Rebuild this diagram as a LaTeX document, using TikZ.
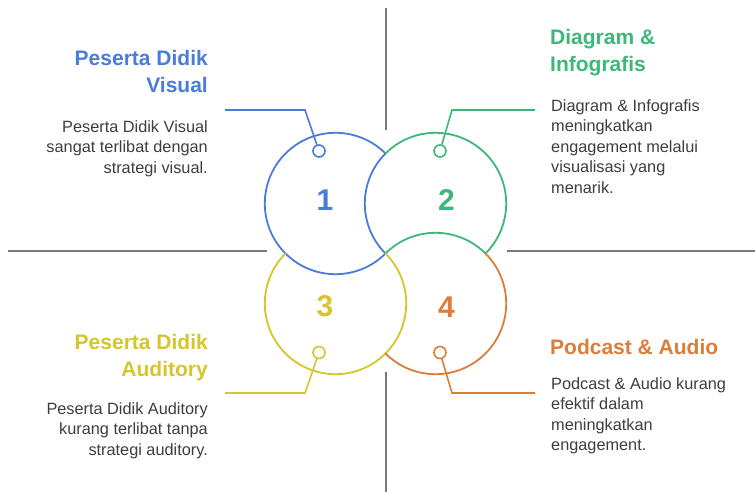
\documentclass[tikz,border=0pt]{standalone}
\usepackage{fontspec}
\setmainfont{Liberation Sans}
\usepackage{tikz}
\definecolor{visualblue}{HTML}{4A7CDC}
\definecolor{infogreen}{HTML}{3CB878}
\definecolor{audyellow}{HTML}{D6C62C}
\definecolor{podorange}{HTML}{DC7E3A}
\definecolor{bodytext}{HTML}{3E3E3E}
\definecolor{crossgray}{HTML}{7A7A7A}

\begin{document}
\begin{tikzpicture}[x=1pt,y=1pt]
	\tikzstyle{ring}=[line width=1.8pt, line cap=round]
	\tikzstyle{pin}=[circle, draw, fill=white, line width=1.6pt, minimum size=12pt, inner sep=0pt]
	\tikzstyle{link}=[line width=1.6pt]
	\tikzstyle{head}=[font=\fontsize{21}{27}\selectfont\bfseries, inner sep=0pt]
	\tikzstyle{info}=[font=\fontsize{16.3}{20.5}\selectfont, text=bodytext, inner sep=0pt]
	\tikzstyle{num}=[font=\fontsize{30}{30}\selectfont\bfseries]
	\tikzstyle{cross}=[draw=crossgray, line width=2pt]

	\useasboundingbox (0,0) rectangle (755,-492);
	\fill[white] (0,0) rectangle (755,-492);

	\coordinate (up a) at (386,-8);
	\coordinate (up b) at (386,-130);
	\coordinate (down a) at (386,-372);
	\coordinate (down b) at (386,-492);
	\coordinate (left a) at (8,-251);
	\coordinate (left b) at (267,-251);
	\coordinate (right a) at (507,-251);
	\coordinate (right b) at (755,-251);
	\draw [cross] (up a) -- (up b);
	\draw [cross] (down a) -- (down b);
	\draw [cross] (left a) -- (left b);
	\draw [cross] (right a) -- (right b);

	\coordinate (c1) at (335.5,-203.5);
	\coordinate (c2) at (435.5,-203.5);
	\coordinate (c3) at (335.5,-303.5);
	\coordinate (c4) at (435.5,-303.5);
	\draw [ring, visualblue] (c1) ++(45:70.7) arc [start angle=45, end angle=315, radius=70.7];
	\draw [ring, visualblue] (c2) ++(135:70.7) arc [start angle=135, end angle=225, radius=70.7];
	\draw [ring, infogreen] (c2) ++(-45:70.7) arc [start angle=-45, end angle=135, radius=70.7];
	\draw [ring, infogreen] (c4) ++(45:70.7) arc [start angle=45, end angle=135, radius=70.7];
	\draw [ring, audyellow] (c3) ++(135:70.7) arc [start angle=135, end angle=405, radius=70.7];
	\draw [ring, podorange] (c4) ++(225:70.7) arc [start angle=225, end angle=405, radius=70.7];

	\node [num, text=visualblue] (n1) at (325,-200) {1};
	\node [num, text=infogreen] (n2) at (446.5,-200) {2};
	\node [num, text=audyellow] (n3) at (325,-306) {3};
	\node [num, text=podorange] (n4) at (446.5,-307) {4};

	\node [pin, draw=visualblue] (p1) at (319,-151) {};
	\node [pin, draw=infogreen] (p2) at (440,-151) {};
	\node [pin, draw=audyellow] (p3) at (319,-352.5) {};
	\node [pin, draw=podorange] (p4) at (440,-352.5) {};

	\coordinate (k1) at (305,-110);
	\coordinate (e1) at (225,-110);
	\coordinate (k2) at (452,-110);
	\coordinate (e2) at (535,-110);
	\coordinate (k3) at (305,-393);
	\coordinate (e3) at (225,-393);
	\coordinate (k4) at (452,-393);
	\coordinate (e4) at (535,-393);
	\draw [link, visualblue] (p1) -- (k1) -- (e1);
	\draw [link, infogreen] (p2) -- (k2) -- (e2);
	\draw [link, audyellow] (p3) -- (k3) -- (e3);
	\draw [link, podorange] (p4) -- (k4) -- (e4);

	\node [head, text=visualblue, align=right, anchor=north east] (t1) at (208,-50) {Peserta Didik\\Visual};
	\node [info, align=right, anchor=north east] (b1) at (208,-120) {Peserta Didik Visual\\sangat terlibat dengan\\strategi visual.};
	\node [head, text=infogreen, align=left, anchor=north west] (t2) at (550,-29) {Diagram \&\\Infografis};
	\node [info, align=left, anchor=north west] (b2) at (551,-99) {Diagram \& Infografis\\meningkatkan\\engagement melalui\\visualisasi yang\\menarik.};
	\node [head, text=audyellow, align=right, anchor=north east] (t3) at (208,-334) {Peserta Didik\\Auditory};
	\node [info, align=right, anchor=north east] (b3) at (208,-402) {Peserta Didik Auditory\\kurang terlibat tanpa\\strategi auditory.};
	\node [head, text=podorange, align=left, anchor=north west] (t4) at (550,-339) {Podcast \& Audio};
	\node [info, align=left, anchor=north west] (b4) at (551,-377) {Podcast \& Audio kurang\\efektif dalam\\meningkatkan\\engagement.};
\end{tikzpicture}
\end{document}
